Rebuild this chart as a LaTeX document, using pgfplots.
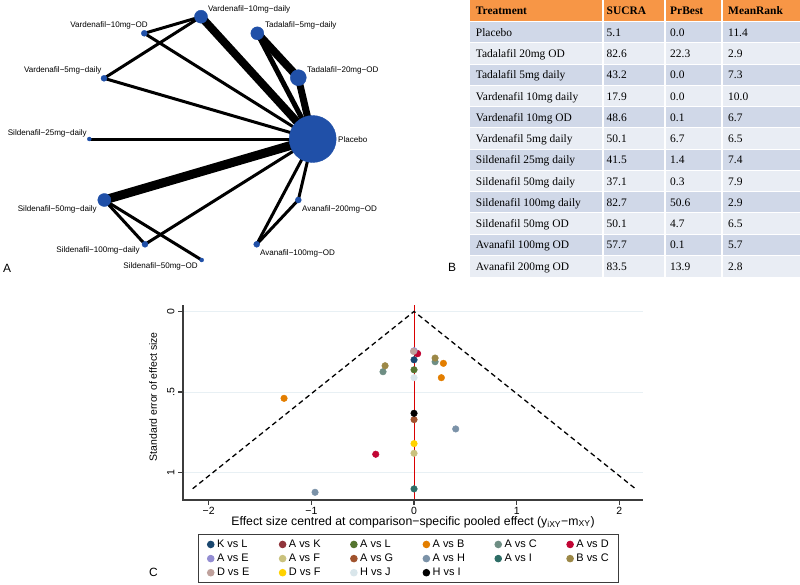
\documentclass[border=0pt]{standalone}
\usepackage{pgfplots}
\pgfplotsset{compat=1.18}
\usepackage{fontspec}
\setmainfont{Liberation Sans}
\newfontfamily\tabfont{Liberation Serif}
\definecolor{nodeblue}{RGB}{32,80,168}
\definecolor{hdr}{RGB}{247,150,70}
\definecolor{bandA}{RGB}{208,216,232}
\definecolor{bandB}{RGB}{233,237,244}
\definecolor{gridc}{RGB}{232,240,244}
\definecolor{axgray}{RGB}{60,60,60}
\definecolor{cnavy}{RGB}{26,71,111}
\definecolor{cmaroon}{RGB}{144,53,59}
\definecolor{cforest}{RGB}{85,117,47}
\definecolor{cdkorange}{RGB}{227,126,0}
\definecolor{cteal}{RGB}{110,142,132}
\definecolor{ccranberry}{RGB}{193,5,52}
\definecolor{clavender}{RGB}{147,141,210}
\definecolor{ckhaki}{RGB}{202,194,126}
\definecolor{csienna}{RGB}{160,82,45}
\definecolor{cemidblue}{RGB}{123,146,168}
\definecolor{cemerald}{RGB}{45,109,102}
\definecolor{cbrown}{RGB}{156,136,71}
\definecolor{cerose}{RGB}{191,161,156}
\definecolor{cgold}{RGB}{255,210,0}
\definecolor{cbluish}{RGB}{217,230,235}
\newcommand{\netfont}{\fontsize{8.1}{9.5}\selectfont}
\newcommand{\cfont}{\fontsize{10.5}{12.5}\selectfont}
\newcommand{\lfont}{\fontsize{11}{13}\selectfont}
\newcommand{\xlfont}{\fontsize{12.3}{14}\selectfont}
\newcommand{\tfont}{\tabfont\fontsize{11.5}{13}\selectfont}
\begin{document}
\begin{tikzpicture}[x=1bp,y=1bp]
\path[use as bounding box] (0,0) rectangle (800,-585);
% ---------------- Panel A: network ----------------
\begin{axis}[at={(0bp,0bp)}, anchor=north west, width=420bp, height=280bp, scale only axis,
  xmin=0, xmax=420, ymin=0, ymax=280, y dir=reverse, hide axis, clip=false]
\addplot[black, line width=8bp] coordinates {(312.7,139) (201,16.7)};
\addplot[black, line width=3bp] coordinates {(312.7,139) (144.3,33.3)};
\addplot[black, line width=3bp] coordinates {(312.7,139) (104,78.3)};
\addplot[black, line width=5bp] coordinates {(312.7,139) (257.3,33.3)};
\addplot[black, line width=7bp] coordinates {(312.7,139) (298.3,77.7)};
\addplot[black, line width=8bp] coordinates {(257.3,33.3) (298.3,77.7)};
\addplot[black, line width=3bp] coordinates {(312.7,139) (89.3,139)};
\addplot[black, line width=9bp] coordinates {(312.7,139) (104.3,200)};
\addplot[black, line width=3bp] coordinates {(312.7,139) (145,244.3)};
\addplot[black, line width=3bp] coordinates {(312.7,139) (298.3,200)};
\addplot[black, line width=3bp] coordinates {(312.7,139) (256.7,244.3)};
\addplot[black, line width=3bp] coordinates {(256.7,244.3) (298.3,200)};
\addplot[black, line width=3bp] coordinates {(201,16.7) (144.3,33.3)};
\addplot[black, line width=3bp] coordinates {(201,16.7) (104,78.3)};
\addplot[black, line width=3bp] coordinates {(104.3,200) (145,244.3)};
\addplot[black, line width=3bp] coordinates {(104.3,200) (201.7,260)};
% nodes
\addplot[only marks, mark=*, mark size=23.5bp, nodeblue] coordinates {(312.7,139)};
\addplot[only marks, mark=*, mark size=8bp, nodeblue] coordinates {(298.3,77.7)};
\addplot[only marks, mark=*, mark size=6.5bp, nodeblue] coordinates {(201,16.7) (257.3,33.3) (104.3,200)};
\addplot[only marks, mark=*, mark size=3bp, nodeblue] coordinates {(144.3,33.3) (104,78.3) (298.3,200) (145,244.3) (256.7,244.3)};
\addplot[only marks, mark=*, mark size=2bp, nodeblue] coordinates {(89.3,139) (201.7,260)};
% labels
\node[anchor=west, inner sep=0, font=\netfont] at (axis cs:208,9.3) {Vardenafil−10mg−daily};
\node[anchor=east, inner sep=0, font=\netfont] at (axis cs:148,25) {Vardenafil−10mg−OD};
\node[anchor=west, inner sep=0, font=\netfont] at (axis cs:265,25.7) {Tadalafil−5mg−daily};
\node[anchor=west, inner sep=0, font=\netfont] at (axis cs:307,70.7) {Tadalafil−20mg−OD};
\node[anchor=east, inner sep=0, font=\netfont] at (axis cs:101.7,70.7) {Vardenafil−5mg−daily};
\node[anchor=east, inner sep=0, font=\netfont] at (axis cs:87,133) {Sildenafil−25mg−daily};
\node[anchor=west, inner sep=0, font=\netfont] at (axis cs:338,140) {Placebo};
\node[anchor=east, inner sep=0, font=\netfont] at (axis cs:97,209) {Sildenafil−50mg−daily};
\node[anchor=west, inner sep=0, font=\netfont] at (axis cs:302,209) {Avanafil−200mg−OD};
\node[anchor=east, inner sep=0, font=\netfont] at (axis cs:140,250.7) {Sildenafil−100mg−daily};
\node[anchor=west, inner sep=0, font=\netfont] at (axis cs:260,253) {Avanafil−100mg−OD};
\node[anchor=east, inner sep=0, font=\netfont] at (axis cs:198,266.7) {Sildenafil−50mg−OD};
\end{axis}
\node[anchor=base west, inner sep=0, font=\fontsize{12}{14}\selectfont] at (3,-272) {A};
% ---------------- Panel B: table ----------------
\fill[hdr] (470,0) rectangle (800,-21.7);
\node[anchor=base west, inner sep=0, font=\tfont\bfseries] at (475.7,-14.8) {Treatment};
\node[anchor=base west, inner sep=0, font=\tfont\bfseries] at (606.5,-14.8) {SUCRA};
\node[anchor=base west, inner sep=0, font=\tfont\bfseries] at (670,-14.8) {PrBest};
\node[anchor=base west, inner sep=0, font=\tfont\bfseries] at (728,-14.8) {MeanRank};
\foreach \i/\nm/\s/\p/\m in {1/Placebo/5.1/0.0/11.4, 2/Tadalafil 20mg OD/82.6/22.3/2.9, 3/Tadalafil 5mg daily/43.2/0.0/7.3, 4/Vardenafil 10mg daily/17.9/0.0/10.0, 5/Vardenafil 10mg OD/48.6/0.1/6.7, 6/Vardenafil 5mg daily/50.1/6.7/6.5, 7/Sildenafil 25mg daily/41.5/1.4/7.4, 8/Sildenafil 50mg daily/37.1/0.3/7.9, 9/Sildenafil 100mg daily/82.7/50.6/2.9, 10/Sildenafil 50mg OD/50.1/4.7/6.5, 11/Avanafil 100mg OD/57.7/0.1/5.7, 12/Avanafil 200mg OD/83.5/13.9/2.8} {
  \pgfmathsetmacro{\yt}{-21.7-(\i-1)*21.25}
  \pgfmathsetmacro{\yb}{\yt-21.25}
  \pgfmathsetmacro{\ybl}{\yt-14.6}
  \pgfmathtruncatemacro{\odd}{mod(\i,2)}
  \ifnum\odd=1 \fill[bandA] (470,\yt) rectangle (800,\yb); \else \fill[bandB] (470,\yt) rectangle (800,\yb); \fi
  \node[anchor=base west, inner sep=0, font=\tfont] at (475.7,\ybl) {\nm};
  \node[anchor=base west, inner sep=0, font=\tfont] at (606.5,\ybl) {\s};
  \node[anchor=base west, inner sep=0, font=\tfont] at (670,\ybl) {\p};
  \node[anchor=base west, inner sep=0, font=\tfont] at (728,\ybl) {\m};
}
\foreach \x in {602.7,665,721.7} \draw[white, line width=1.7bp] (\x,0) -- (\x,-276.7);
\foreach \k in {0,...,11} \draw[white, line width=1bp] (470,{-21.7-\k*21.25}) -- (800,{-21.7-\k*21.25});
\node[anchor=base west, inner sep=0, font=\fontsize{12}{14}\selectfont] at (448,-271) {B};
% ---------------- Panel C: funnel ----------------
\begin{axis}[at={(183bp,-305bp)}, anchor=north west, width=460bp, height=195bp, scale only axis,
  xmin=-2.25, xmax=2.23, ymin=-0.04, ymax=1.17, y dir=reverse,
  axis x line*=bottom, axis y line*=left,
  axis line style={draw=none},
  xtick={-2,-1,0,1,2}, xticklabels={−2,−1,0,1,2},
  ytick={0,0.5,1}, yticklabels={0,.5,1},
  yticklabel style={rotate=90, anchor=south},
  xticklabel style={yshift=1.5bp},
  tick align=outside, major tick length=5bp,
  every tick/.style={draw=none},
  ymajorgrids, major grid style={draw=gridc, line width=0.8bp},
  tick label style={font=\cfont},
  xlabel={Effect size centred at comparison−specific pooled effect (y\textsubscript{iXY}−m\textsubscript{XY})},
  ylabel={Standard error of effect size},
  xlabel style={font=\xlfont, at={(axis description cs:0.5,-0.112)}, anchor=center},
  ylabel style={font=\cfont, at={(axis description cs:-0.065,0.53)}, anchor=center},
  clip=false,
  legend columns=6,
  legend cell align=left,
  legend image code/.code={\draw[mark repeat=2,mark phase=2,#1] plot coordinates {(0bp,0bp) (5bp,0bp) (10bp,0bp)};},
  legend style={at={(0.0326,-0.174)}, anchor=north west, draw=axgray, line width=0.9bp, font=\lfont,
    inner xsep=9bp, inner ysep=4.5bp, row sep=3bp, nodes={inner sep=1bp},
    /tikz/every even column/.append style={column sep=29bp},
    /tikz/every odd column/.append style={column sep=2bp}},
]
\addplot[red!85!black, line width=0.9bp, forget plot] coordinates {(0,-0.04) (0,1.17)};
\addplot[black, line width=1.3bp, dash pattern=on 5bp off 3.5bp, forget plot] coordinates {(-2.156,1.1) (0,0) (2.156,1.1)};
\addplot[only marks, mark=*, mark size=3.3bp, cnavy] coordinates {(0,0.30)};
\addlegendentry{K vs L}
\addplot[only marks, mark=*, mark size=3.3bp, cmaroon] coordinates {(0.03,0.26)};
\addlegendentry{A vs K}
\addplot[only marks, mark=*, mark size=3.3bp, cforest] coordinates {(0,0.362)};
\addlegendentry{A vs L}
\addplot[only marks, mark=*, mark size=3.3bp, cdkorange] coordinates {(0.286,0.322) (0.266,0.411) (-1.266,0.539)};
\addlegendentry{A vs B}
\addplot[only marks, mark=*, mark size=3.3bp, cteal] coordinates {(0.205,0.312) (-0.302,0.374)};
\addlegendentry{A vs C}
\addplot[only marks, mark=*, mark size=3.3bp, ccranberry] coordinates {(-0.373,0.886) (0.035,0.262)};
\addlegendentry{A vs D}
\addplot[only marks, mark=*, mark size=3.3bp, clavender] coordinates {(0,0.244)};
\addlegendentry{A vs E}
\addplot[only marks, mark=*, mark size=3.3bp, ckhaki] coordinates {(0,0.880)};
\addlegendentry{A vs F}
\addplot[only marks, mark=*, mark size=3.3bp, csienna] coordinates {(0,0.671)};
\addlegendentry{A vs G}
\addplot[only marks, mark=*, mark size=3.3bp, cemidblue] coordinates {(0.406,0.729) (-0.964,1.122)};
\addlegendentry{A vs H}
\addplot[only marks, mark=*, mark size=3.3bp, cemerald] coordinates {(0,1.101)};
\addlegendentry{A vs I}
\addplot[only marks, mark=*, mark size=3.3bp, cbrown] coordinates {(0.205,0.289) (-0.282,0.337)};
\addlegendentry{B vs C}
\addplot[only marks, mark=*, mark size=3.3bp, cerose] coordinates {(-0.005,0.248)};
\addlegendentry{D vs E}
\addplot[only marks, mark=*, mark size=3.3bp, cgold] coordinates {(0,0.820)};
\addlegendentry{D vs F}
\addplot[only marks, mark=*, mark size=3.3bp, cbluish] coordinates {(0,0.411)};
\addlegendentry{H vs J}
\addplot[only marks, mark=*, mark size=3.3bp, black] coordinates {(0,0.632)};
\addlegendentry{H vs I}
\end{axis}
% axis spines and tick marks of panel C
\draw[draw=axgray, line width=1.1bp] (183,-305) -- (183,-500) -- (643,-500);
\foreach \xx in {208.7,311.3,414.0,516.7,619.4} \draw[draw=axgray, line width=1.1bp] (\xx,-500) -- (\xx,-505);
\foreach \yy in {311.4,392.0,472.6} \draw[draw=axgray, line width=1.1bp] (183,-\yy) -- (178,-\yy);
\node[anchor=center, inner sep=0, font=\fontsize{12}{14}\selectfont] at (153.5,-572.5) {C};
\end{tikzpicture}
\end{document}
